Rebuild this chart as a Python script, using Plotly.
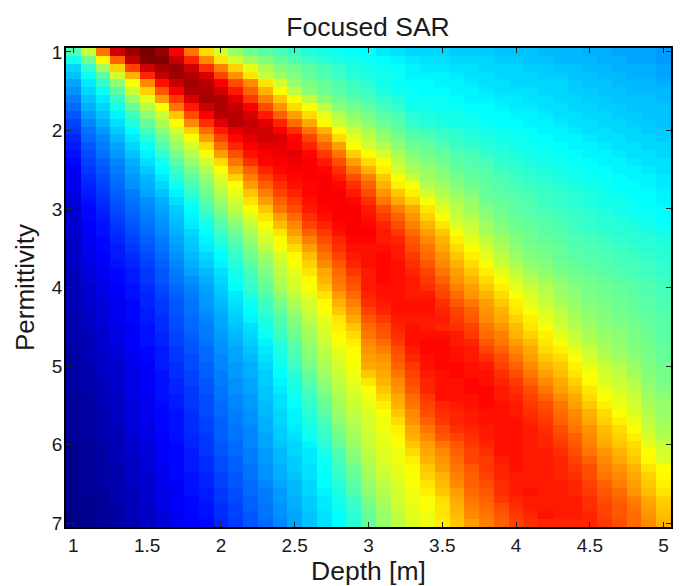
import plotly.graph_objects as go

depth = [round(1 + 0.1 * i, 1) for i in range(41)]
permittivity = [round(1 + 0.1 * i, 1) for i in range(61)]
x_ticks = [1, 1.5, 2, 2.5, 3, 3.5, 4, 4.5, 5]
x_labels = ["1", "1.5", "2", "2.5", "3", "3.5", "4", "4.5", "5"]
y_ticks = [1, 2, 3, 4, 5, 6, 7]

# One list per depth column, top to bottom (permittivity 1.0 ... 7.0)
sar_by_depth = [
 [45,39,33,31,28,26,24,22,20,18, 17,15,14,13,12,11,10,10,9,8, 7,7,7,7,6,6,6,6,5,5, 5,5,5,4,4,4,4,4,3,3, 3,3,3,3,2,2,2,2,2,2, 1,1,1,1,1,1,1,1,1,0, 0],
 [57,48,42,38,35,33,31,29,27,25, 23,22,20,19,18,17,16,15,14,13, 12,12,11,11,10,10,9,9,8,8, 7,7,7,6,6,6,5,5,5,5, 4,4,4,4,3,3,3,3,3,3, 2,2,2,2,2,2,2,1,1,1, 1],
 [76,63,53,46,42,38,35,33,31,29, 27,25,24,23,21,20,19,18,17,16, 15,14,13,13,12,12,11,11,10,10, 9,9,8,8,8,7,7,7,7,6, 6,6,5,5,5,5,4,4,4,4, 3,3,3,3,3,3,2,2,2,2, 2],
 [92,78,67,58,51,46,42,39,36,34, 32,30,28,27,25,24,23,22,21,20, 19,18,17,16,15,14,14,13,12,12, 11,11,10,10,10,9,9,9,8,8, 7,7,7,7,6,6,6,6,5,5, 5,5,5,4,4,4,4,4,3,3, 3],
 [97,93,81,70,62,57,52,47,43,40, 37,35,33,31,29,28,27,26,24,23, 22,21,20,19,18,17,16,15,14,14, 13,13,12,12,12,11,11,11,11,10, 10,9,9,9,9,8,8,8,8,7, 7,7,6,6,6,6,5,5,5,5, 4],
 [100,99,92,84,74,67,60,55,51,47, 44,41,38,36,34,32,30,29,28,26, 25,24,23,22,21,20,19,18,17,17, 16,15,15,14,14,13,13,13,12,12, 11,11,11,11,10,10,10,10,9,9, 8,8,8,8,7,7,7,7,6,6, 6],
 [97,99,96,93,86,79,72,62,57,54, 51,48,45,42,39,37,35,33,31,29, 28,27,26,25,24,23,22,21,20,20, 19,18,17,17,16,16,15,15,14,14, 14,13,13,13,13,12,12,12,12,11, 11,11,11,10,10,10,9,9,9,8, 8],
 [88,93,97,96,93,88,82,76,68,62, 58,55,52,49,46,43,41,38,36,34, 32,31,30,29,28,27,26,25,24,23, 22,21,20,20,19,19,18,18,17,17, 16,16,15,15,14,14,13,13,13,13, 12,12,12,12,12,11,11,11,11,10, 10],
 [76,84,92,95,96,95,91,85,80,74, 67,62,58,55,52,49,46,44,42,39, 37,36,35,33,32,31,30,29,28,26, 25,24,23,23,22,22,21,20,20,19, 19,18,18,17,17,17,16,16,16,15, 15,14,14,14,13,13,13,12,12,12, 11],
 [66,74,83,91,94,95,96,92,88,83, 77,72,66,62,58,55,52,50,48,46, 44,41,39,37,36,35,33,32,30,29, 28,27,27,26,25,24,24,23,22,22, 21,21,20,20,19,19,19,18,18,17, 17,17,16,16,15,15,14,14,13,13, 12],
 [58,65,75,81,88,92,95,95,94,90, 85,81,77,72,66,62,59,57,55,52, 50,47,45,43,41,39,37,36,34,33, 32,31,30,29,28,28,27,26,26,25, 25,24,24,23,23,22,22,21,21,21, 20,20,19,19,18,18,17,17,16,16, 15],
 [52,58,67,73,80,85,90,93,94,94, 90,87,84,80,76,72,67,62,60,58, 56,53,50,48,46,44,42,41,39,38, 37,35,34,33,32,31,30,29,28,28, 27,27,26,26,25,25,24,24,23,23, 22,22,21,21,20,20,19,19,18,18, 17],
 [48,53,60,65,74,78,82,88,91,93, 92,90,88,86,83,78,75,72,68,65, 62,59,56,54,52,50,48,46,44,43, 42,40,38,37,36,34,33,32,31,30, 29,29,28,28,27,27,26,26,25,25, 25,24,24,23,23,22,22,21,21,20, 20],
 [46,50,54,57,65,70,75,80,85,90, 92,92,90,88,87,84,81,78,75,72, 68,65,62,60,58,56,53,51,50,48, 47,45,43,42,40,39,38,36,35,34, 33,32,32,31,31,30,30,29,29,28, 28,27,27,26,26,25,24,24,23,23, 22],
 [44,47,50,53,58,62,68,73,78,84, 88,91,90,89,88,87,85,83,81,78, 76,72,69,65,63,62,59,57,56,55, 54,51,49,47,45,44,43,41,40,39, 38,37,36,35,34,34,33,33,32,32, 31,30,30,29,29,28,27,27,26,26, 25],
 [42,45,48,50,52,56,62,66,72,77, 83,87,88,90,89,88,87,86,84,82, 80,77,74,72,69,66,63,62,60,59, 58,56,54,52,50,49,48,46,45,44, 43,41,40,39,38,37,36,36,35,34, 33,33,32,32,31,30,30,29,29,28, 28],
 [40,43,46,47,49,51,56,62,66,71, 76,81,84,87,88,88,88,87,87,86, 85,83,81,78,75,72,69,67,65,63, 62,60,58,57,56,54,53,52,51,50, 49,47,46,44,43,42,41,40,39,38, 36,35,35,34,34,33,33,32,32,31, 31],
 [39,41,44,45,47,48,51,56,60,63, 70,74,78,82,85,87,88,88,88,88, 87,86,84,82,80,78,76,74,71,70, 68,65,63,62,60,59,58,57,56,55, 54,53,51,50,48,47,46,44,43,42, 41,40,38,38,37,37,36,35,35,34, 34],
 [38,40,42,43,45,46,48,51,55,58, 62,66,72,76,80,83,85,87,88,88, 88,88,87,86,84,83,81,79,77,76, 75,72,70,68,65,64,63,62,60,59, 58,57,56,55,54,53,52,51,49,48, 47,45,44,43,42,41,40,39,38,37, 37],
 [37,39,40,41,43,44,46,49,51,54, 57,60,62,67,72,76,80,83,85,87, 88,88,88,88,87,86,85,84,82,80, 79,77,75,73,71,68,66,64,63,62, 62,61,60,59,58,57,56,55,54,53, 52,51,50,48,47,46,45,43,42,41, 41],
 [37,38,39,40,41,43,44,47,49,51, 54,56,58,62,66,70,75,78,80,83, 85,86,87,88,87,86,86,86,85,85, 85,84,83,81,79,77,76,74,73,72, 71,68,65,62,61,60,59,58,58,57, 57,56,55,54,53,52,51,50,48,47, 47],
 [35,37,38,39,39,40,42,44,46,48, 50,52,55,58,62,64,68,70,73,76, 80,82,84,85,85,86,87,87,87,87, 86,86,85,84,82,80,79,77,75,73, 72,71,70,68,66,64,62,61,61,60, 60,59,59,58,57,56,55,54,53,52, 52],
 [34,36,37,38,38,38,40,42,44,46, 47,49,51,54,56,58,62,64,68,71, 75,78,80,82,84,85,85,86,86,86, 86,86,86,86,85,84,83,82,80,79, 78,76,74,73,71,70,68,66,64,63, 62,61,61,60,60,59,58,58,57,56, 56],
 [33,35,36,36,37,38,38,39,41,42, 44,46,48,50,52,54,57,62,64,67, 71,73,75,77,79,80,82,83,84,85, 85,85,86,86,85,86,86,86,85,84, 82,81,80,79,77,76,74,73,71,70, 68,66,64,63,62,62,61,61,60,60, 59],
 [33,34,35,36,37,37,38,39,40,41, 43,45,47,48,50,52,53,55,58,62, 65,67,70,72,74,76,77,79,81,82, 83,85,86,86,85,85,86,87,87,86, 86,85,84,84,82,81,80,78,76,74, 72,71,70,68,67,65,64,62,62,61, 61],
 [33,34,35,36,36,37,38,38,39,40, 42,43,45,47,48,50,51,53,55,57, 60,62,65,68,70,71,73,74,76,78, 80,81,83,84,85,84,86,87,87,87, 87,86,86,86,86,84,83,82,80,79, 76,74,73,72,70,69,68,66,65,65, 64],
 [32,33,34,35,36,36,37,38,39,39, 41,42,43,45,46,47,49,50,52,54, 56,57,59,62,64,66,68,70,72,73, 75,77,79,81,82,83,85,85,86,86, 87,87,86,86,86,85,84,84,83,81, 79,78,77,76,75,74,72,71,70,69, 68],
 [32,33,34,34,35,36,36,37,38,39, 40,41,42,44,45,46,47,48,50,52, 53,55,57,58,60,62,64,66,68,70, 72,73,76,78,79,81,82,84,85,85, 86,86,87,87,86,86,85,85,84,83, 82,81,81,79,78,78,77,76,75,74, 72],
 [32,33,33,34,34,35,36,37,37,38, 39,40,41,42,44,45,46,47,47,48, 50,51,53,54,56,58,60,62,64,66, 68,70,72,73,74,76,77,79,81,83, 85,86,86,87,87,87,86,86,85,85, 84,83,82,82,81,80,79,78,77,76, 75],
 [31,32,33,33,34,34,35,36,37,37, 38,39,40,41,42,43,45,45,46,47, 48,49,50,51,53,54,56,57,60,62, 64,66,68,70,71,73,75,76,78,80, 81,83,84,85,85,86,86,86,86,86, 86,86,85,84,84,83,83,82,80,79, 78],
 [31,32,33,33,33,34,35,35,36,37, 38,38,39,40,41,42,43,44,45,46, 46,47,48,49,50,51,52,54,56,58, 60,62,64,65,67,69,70,72,74,76, 78,80,82,83,84,85,85,86,86,86, 86,86,86,86,85,85,85,84,83,82, 81],
 [31,31,32,33,33,34,34,35,36,36, 37,38,38,39,40,41,42,43,44,45, 45,46,47,48,48,49,50,51,53,55, 57,59,60,62,64,65,67,69,71,72, 74,76,78,80,81,82,83,84,85,85, 85,85,85,85,85,85,86,85,85,84, 83],
 [30,31,32,32,33,33,34,34,35,36, 36,37,38,38,39,40,41,42,43,43, 44,45,46,46,47,48,49,50,51,53, 55,56,57,59,60,62,64,65,66,68, 70,72,74,76,78,80,81,82,83,84, 84,85,85,85,85,85,85,85,85,86, 84],
 [30,30,31,32,33,33,33,34,34,35, 36,36,37,38,38,39,40,41,42,42, 43,44,45,45,46,47,47,48,49,51, 52,53,54,56,57,58,60,62,64,66, 68,69,71,72,74,76,77,78,80,81, 82,83,84,84,84,85,85,85,85,85, 84],
 [30,30,31,31,32,32,33,33,34,34, 35,36,36,37,38,38,39,40,41,41, 42,43,43,44,45,45,46,47,48,49, 50,51,52,53,54,55,57,58,60,62, 64,65,67,69,71,72,74,75,76,78, 79,80,81,82,83,84,84,85,85,85, 84],
 [29,30,30,31,31,32,32,33,33,34, 34,35,36,36,37,38,38,39,40,40, 41,42,42,43,44,45,45,46,47,48, 49,49,50,51,52,53,54,55,57,58, 60,62,63,65,66,68,70,71,73,74, 75,76,78,80,80,81,82,83,83,84, 84],
 [29,29,30,30,31,31,32,32,33,33, 34,34,35,36,36,37,38,38,39,39, 40,41,41,42,43,44,45,45,46,47, 48,48,49,50,50,51,52,53,54,55, 57,58,59,61,62,64,66,67,69,70, 71,73,74,75,76,78,79,80,81,81, 82],
 [28,29,29,30,30,31,31,32,32,33, 33,34,34,35,36,36,37,37,38,39, 39,40,41,41,42,43,44,44,45,46, 47,47,48,48,49,50,51,51,52,53, 55,56,57,58,60,61,62,64,66,67, 68,70,71,73,74,75,77,78,79,79, 80],
 [28,28,29,29,30,30,31,31,32,32, 33,33,34,34,35,36,36,37,37,38, 38,39,40,41,41,42,43,44,44,45, 46,46,47,47,48,49,49,50,50,51, 52,53,55,56,57,58,59,61,62,64, 66,67,68,70,71,72,73,75,76,77, 77],
 [28,28,29,29,30,30,31,31,31,32, 32,33,33,34,34,35,36,36,37,37, 38,38,39,40,41,41,42,43,43,44, 45,45,46,46,47,47,48,48,49,49, 50,50,51,52,53,54,55,56,57,59, 60,62,63,65,67,68,69,71,72,73, 74],
 [27,27,28,28,29,30,30,31,31,31, 32,32,33,33,34,34,35,35,36,36, 37,37,38,39,40,41,41,42,42,43, 44,44,45,45,46,46,46,47,47,47, 48,49,49,50,51,52,52,53,54,55, 57,58,59,62,63,64,65,67,68,69, 70],
]
sar_rows = [list(r) for r in zip(*sar_by_depth)]

jet = [
    [0.0, "rgb(0,0,131)"],
    [0.115, "rgb(0,0,255)"],
    [0.37, "rgb(0,255,255)"],
    [0.625, "rgb(255,255,0)"],
    [0.875, "rgb(255,0,0)"],
    [1.0, "rgb(120,0,0)"],
]

fig = go.Figure(go.Heatmap(
    x=depth, y=permittivity, z=sar_rows,
    colorscale=jet, zmin=0, zmax=100, zsmooth=False, showscale=False,
))

FONT = "Liberation Sans, Arial, sans-serif"
axis = dict(
    showgrid=False, zeroline=False, showline=True, linecolor="#000000", linewidth=1.5,
    mirror="ticks", ticks="inside", ticklen=5, tickwidth=1, tickcolor="#222222",
    automargin=False,
    tickfont=dict(family=FONT, size=19, color="#1a1a1a"),
)
fig.update_layout(
    width=676, height=578,
    margin=dict(l=58, r=13, t=40, b=59),
    paper_bgcolor="white", plot_bgcolor="white",
    title=dict(text="Focused SAR", x=0.5325, xanchor="center", y=0.968, yanchor="middle",
               font=dict(family=FONT, size=26.5, color="#1a1a1a")),
    xaxis=dict(axis, range=[0.95, 5.05], tickvals=x_ticks, ticktext=x_labels,
               title=dict(text="Depth [m]", standoff=8, font=dict(family=FONT, size=26.5, color="#1a1a1a"))),
    yaxis=dict(axis, range=[7.05, 0.95], tickvals=y_ticks, ticklabelstandoff=-2,
               title=dict(text="Permittivity", standoff=10, font=dict(family=FONT, size=26, color="#1a1a1a"))),
)
fig.write_html("out.html")
